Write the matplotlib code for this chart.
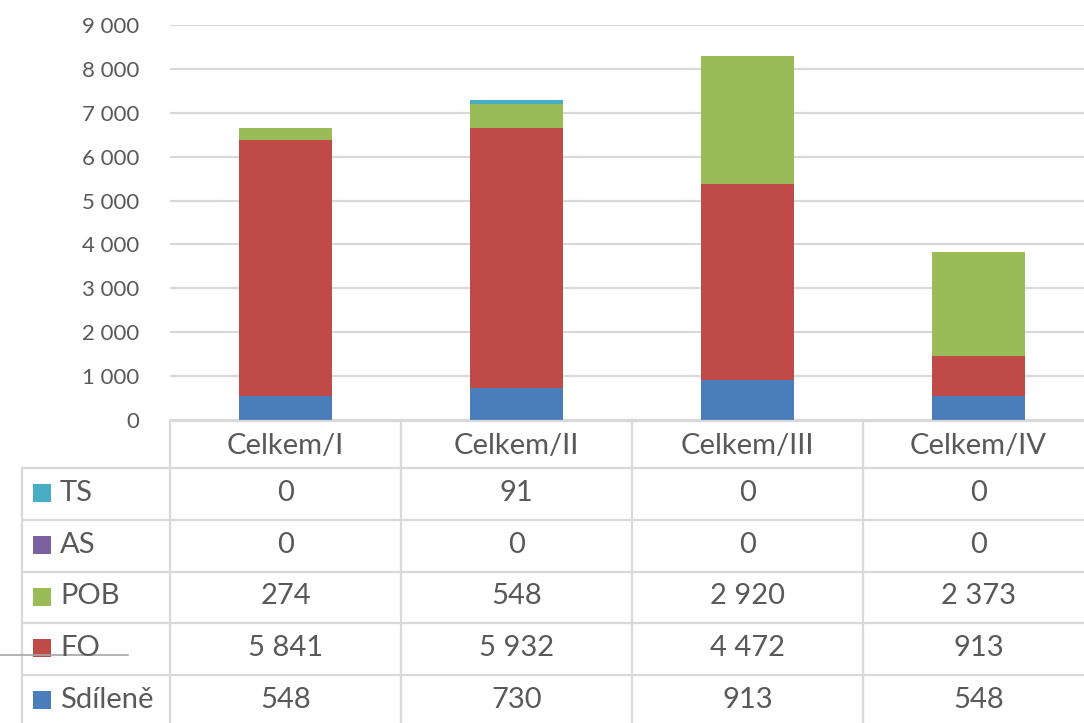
import matplotlib
matplotlib.use("Agg")
import matplotlib.pyplot as plt
from matplotlib.ticker import FuncFormatter
from matplotlib.patches import Rectangle

plt.rcParams['font.family'] = ['Lato', 'DejaVu Sans']

# data
categories = ["Celkem/I", "Celkem/II", "Celkem/III", "Celkem/IV"]
series_names = ["Sdíleně", "FO", "POB", "AS", "TS"]
sdilene = [548, 730, 913, 548]
fo = [5841, 5932, 4472, 913]
pob = [274, 548, 2920, 2373]
as_ = [0, 0, 0, 0]
ts = [0, 91, 0, 0]
series_values = [sdilene, fo, pob, as_, ts]
colors = ["#4A7EBB", "#BE4B48", "#9BBB59", "#7D60A0", "#4BACC6"]

W, H = 1084, 723
text_col = "#595959"
grid_col = "#D9D9D9"


def fmt_num(v):
    return f"{int(v):,}".replace(",", " ")


fig = plt.figure(figsize=(W / 100, H / 100), dpi=100)

# bar area: x from 170 px, each category column 231 px wide
x0, cw = 170, 231
y_top, y_bot = 25, 420
ax = fig.add_axes([x0 / W, (H - y_bot) / H, 4 * cw / W, (y_bot - y_top) / H])
ax.set_xlim(-0.5, 3.5)
ax.set_ylim(0, 9000)
ax.set_yticks(range(0, 9001, 1000))
ax.yaxis.set_major_formatter(FuncFormatter(lambda v, p: fmt_num(v)))
ax.tick_params(axis="y", length=0, labelsize=16, labelcolor=text_col, pad=22)
ax.set_xticks([])
ax.grid(axis="y", color=grid_col, linewidth=1.6)
ax.set_axisbelow(True)
for s in ax.spines.values():
    s.set_visible(False)

bottom = [0, 0, 0, 0]
xs = range(len(categories))
for vals, c in zip(series_values, colors):
    ax.bar(xs, vals, width=0.4, bottom=bottom, color=c, edgecolor="none")
    bottom = [b + v for b, v in zip(bottom, vals)]

# data table below
tab = fig.add_axes([0, 0, 1, 1], facecolor="none")
tab.set_xlim(0, W)
tab.set_ylim(H, 0)
tab.axis("off")

lc = "#D9D9D9"
lw = 1.6
hdr_top, hdr_bot = 421, 468
row_edges = [468, 520, 572, 623, 675, 727]
x_right = x0 + 4 * cw
lab_left = 22

# header
tab.plot([x0, x_right], [hdr_top, hdr_top], color=lc, lw=lw)
for i in range(5):
    xe = x0 + i * cw
    tab.plot([xe, xe], [hdr_top, H], color=lc, lw=lw)
tab.plot([lab_left, lab_left], [hdr_bot, H], color=lc, lw=lw)
for ye in row_edges[:-1]:
    tab.plot([lab_left, x_right], [ye, ye], color=lc, lw=lw)

for i, cat in enumerate(categories):
    tab.text(x0 + (i + 0.5) * cw, (hdr_top + hdr_bot) / 2 + 1, cat,
             ha="center", va="center", fontsize=21, color=text_col)

# rows listed top to bottom: TS, AS, POB, FO, Sdíleně
order = [4, 3, 2, 1, 0]
for r, k in enumerate(order):
    yc = (row_edges[r] + row_edges[r + 1]) / 2 - 1
    tab.add_patch(Rectangle((33, yc - 9), 18, 18, color=colors[k], lw=0))
    tab.text(60, yc, series_names[k], ha="left", va="center",
             fontsize=21, color=text_col)
    for i in range(4):
        tab.text(x0 + (i + 0.5) * cw, yc, fmt_num(series_values[k][i]),
                 ha="center", va="center", fontsize=21, color=text_col)

# stray line at left edge of the screenshot
tab.plot([0, 128], [655, 655], color="#A6A6A6", lw=1.2)

fig.savefig("out.png", dpi=100)
